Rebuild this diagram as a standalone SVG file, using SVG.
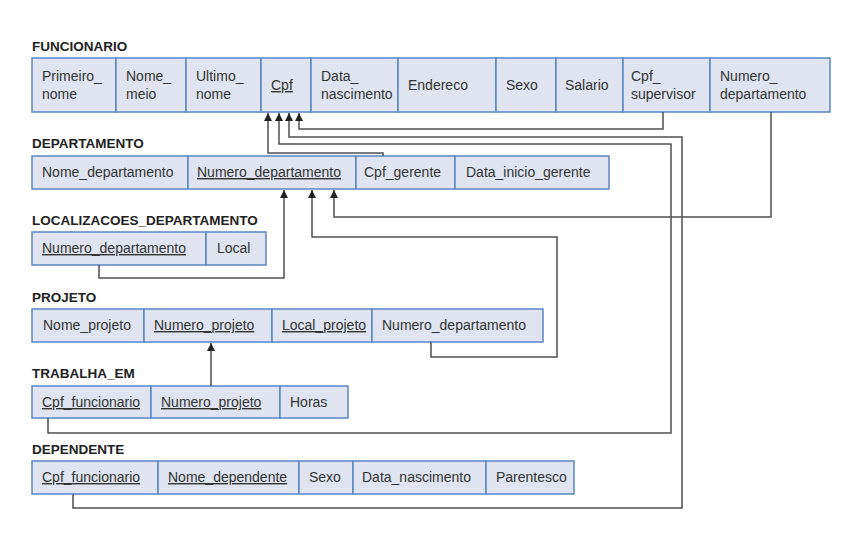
<svg xmlns="http://www.w3.org/2000/svg" width="848" height="540" viewBox="0 0 848 540">
<style>
.t{font-family:"Liberation Sans",Arial,sans-serif;font-size:13.5px;font-weight:bold;fill:#222}
.c{fill:#dfe4f0;stroke:#5b86c4;stroke-width:1.5}
.a{font-family:"Liberation Sans",Arial,sans-serif;font-size:14px;fill:#333}
.u{text-decoration:underline}
.ln{fill:none;stroke:#505050;stroke-width:1.5}
</style>
<defs>
<marker id="ar" markerUnits="userSpaceOnUse" viewBox="0 0 10 10" markerWidth="8" markerHeight="9" refX="10" refY="5" orient="auto">
<path d="M0,0 L10,5 L0,10 z" fill="#222"/>
</marker>
</defs>
<rect width="848" height="540" fill="#fff"/>

<g id="funcionario">
<text class="t" x="32" y="51">FUNCIONARIO</text>
<rect class="c" x="32" y="58" width="84" height="54"/>
<rect class="c" x="116" y="58" width="70" height="54"/>
<rect class="c" x="186" y="58" width="75" height="54"/>
<rect class="c" x="261" y="58" width="50" height="54"/>
<rect class="c" x="311" y="58" width="87" height="54"/>
<rect class="c" x="398" y="58" width="98" height="54"/>
<rect class="c" x="496" y="58" width="60" height="54"/>
<rect class="c" x="556" y="58" width="67" height="54"/>
<rect class="c" x="623" y="58" width="87" height="54"/>
<rect class="c" x="710" y="58" width="120" height="54"/>
<text class="a" x="42" y="81">Primeiro_</text><text class="a" x="42" y="99">nome</text>
<text class="a" x="126" y="81">Nome_</text><text class="a" x="126" y="99">meio</text>
<text class="a" x="196" y="81">Ultimo_</text><text class="a" x="196" y="99">nome</text>
<text class="a u" x="271" y="90">Cpf</text>
<text class="a" x="321" y="81">Data_</text><text class="a" x="321" y="99">nascimento</text>
<text class="a" x="408" y="90">Endereco</text>
<text class="a" x="506" y="90">Sexo</text>
<text class="a" x="565" y="90">Salario</text>
<text class="a" x="631" y="81">Cpf_</text><text class="a" x="631" y="99">supervisor</text>
<text class="a" x="720" y="81">Numero_</text><text class="a" x="720" y="99">departamento</text>
</g>

<g id="departamento">
<text class="t" x="32" y="148">DEPARTAMENTO</text>
<rect class="c" x="32" y="156" width="156" height="33"/>
<rect class="c" x="188" y="156" width="168" height="33"/>
<rect class="c" x="356" y="156" width="99" height="33"/>
<rect class="c" x="455" y="156" width="154" height="33"/>
<text class="a" x="42" y="177">Nome_departamento</text>
<text class="a u" x="197" y="177">Numero_departamento</text>
<text class="a" x="364" y="177">Cpf_gerente</text>
<text class="a" x="466" y="177">Data_inicio_gerente</text>
</g>

<g id="localizacoes_departamento">
<text class="t" x="32" y="225">LOCALIZACOES_DEPARTAMENTO</text>
<rect class="c" x="32" y="232" width="174" height="33"/>
<rect class="c" x="206" y="232" width="60" height="33"/>
<text class="a u" x="42" y="253">Numero_departamento</text>
<text class="a" x="217" y="253">Local</text>
</g>

<g id="projeto">
<text class="t" x="32" y="302">PROJETO</text>
<rect class="c" x="32" y="309" width="112" height="33"/>
<rect class="c" x="144" y="309" width="128" height="33"/>
<rect class="c" x="272" y="309" width="100" height="33"/>
<rect class="c" x="372" y="309" width="171" height="33"/>
<text class="a" x="43" y="330">Nome_projeto</text>
<text class="a u" x="154" y="330">Numero_projeto</text>
<text class="a u" x="282" y="330">Local_projeto</text>
<text class="a" x="382" y="330">Numero_departamento</text>
</g>

<g id="trabalha_em">
<text class="t" x="32" y="378">TRABALHA_EM</text>
<rect class="c" x="32" y="386" width="119" height="32"/>
<rect class="c" x="151" y="386" width="129" height="32"/>
<rect class="c" x="280" y="386" width="68" height="32"/>
<text class="a u" x="42" y="407">Cpf_funcionario</text>
<text class="a u" x="161" y="407">Numero_projeto</text>
<text class="a" x="290" y="407">Horas</text>
</g>

<g id="dependente">
<text class="t" x="32" y="454">DEPENDENTE</text>
<rect class="c" x="32" y="461" width="126" height="33"/>
<rect class="c" x="158" y="461" width="141" height="33"/>
<rect class="c" x="299" y="461" width="54" height="33"/>
<rect class="c" x="353" y="461" width="133" height="33"/>
<rect class="c" x="486" y="461" width="88" height="33"/>
<text class="a u" x="42" y="482">Cpf_funcionario</text>
<text class="a u" x="168" y="482">Nome_dependente</text>
<text class="a" x="309" y="482">Sexo</text>
<text class="a" x="362" y="482">Data_nascimento</text>
<text class="a" x="496" y="482">Parentesco</text>
</g>

<g id="connectors">
<path class="ln" marker-end="url(#ar)" d="M663,112 V129 H299 V113"/>
<path class="ln" marker-end="url(#ar)" d="M383,156 V153 H268 V113"/>
<path class="ln" marker-end="url(#ar)" d="M48,418 V433 H671 V144 H279 V113"/>
<path class="ln" marker-end="url(#ar)" d="M73,494 V508 H682 V137 H289 V113"/>
<path class="ln" marker-end="url(#ar)" d="M771,112 V217 H334 V190"/>
<path class="ln" marker-end="url(#ar)" d="M431,342 V357 H557 V237 H312 V190"/>
<path class="ln" marker-end="url(#ar)" d="M99,265 V278 H284 V190"/>
<path class="ln" marker-end="url(#ar)" d="M211,386 V343"/>
</g>
</svg>
